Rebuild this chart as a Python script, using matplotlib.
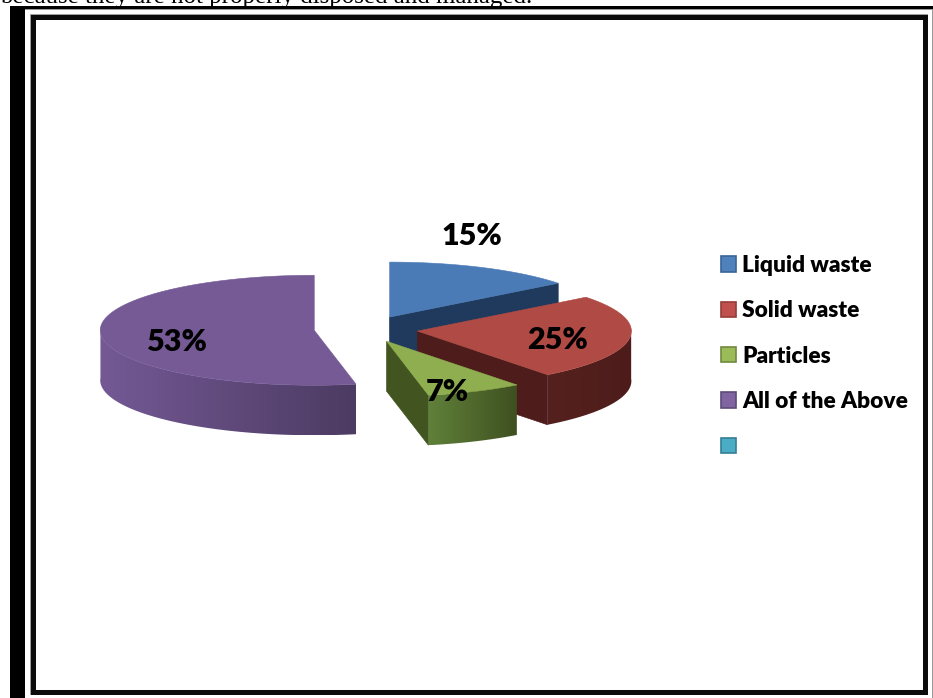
import numpy as np
import matplotlib
matplotlib.use("Agg")
import matplotlib.pyplot as plt
from matplotlib.colors import to_rgb, LinearSegmentedColormap
from matplotlib.patches import Polygon, Rectangle, Patch

# values as they are printed on the chart
categories = ["Liquid waste", "Solid waste", "Particles", "All of the Above", " "]
shares = [15, 25, 7, 53]
caption = "because they are not properly disposed and managed."

top_colors = ["#4a7bb6", "#b04a45", "#8eae4f", "#755a96"]
cut_colors = ["#1f3a5d", "#4d1c1b", "#42541f", "#4b3a60"]
wall_colors = [("#2c4d78", "#2c4d78"), ("#55211e", "#4d1c1a"),
               ("#60813a", "#3f5020"), ("#745995", "#4c3b62")]
legend_colors = ["#4f81bd", "#c0504d", "#9bbb59", "#8064a2", "#4bacc6"]
legend_edges = ["#3a6496", "#963c3a", "#71893f", "#5d4a78", "#357f94"]
label_pos = [(472, 236), (558, 340), (447, 392), (177, 342)]

CX, CY = 366, 329
RX, RY = 214, 55
DEPTH = 50
EXPLODE = 0.243
WARP = 2.5  # degrees, the original 3d view is not a pure ellipse


def rim(cx, cy, deg):
    # deg runs clockwise from 12 o'clock
    a = np.radians(deg - WARP * np.sin(np.radians(deg)))
    return cx + RX * np.sin(a), cy - RY * np.cos(a)


def arc_points(cx, cy, a0, a1, n=80):
    xs, ys = rim(cx, cy, np.linspace(a0, a1, n))
    return np.column_stack([xs, ys])


def draw_cut(ax, cx, cy, deg, color):
    x, y = rim(cx, cy, deg)
    pts = [(cx, cy), (x, y), (x, y + DEPTH), (cx, cy + DEPTH)]
    ax.add_patch(Polygon(pts, closed=True, fc=color, ec=color, lw=0.5))


def draw_wall(ax, cx, cy, a0, a1, colors):
    a0, a1 = max(a0, 90), min(a1, 270)
    if a0 >= a1:
        return
    top = arc_points(cx, cy, a0, a1)
    bottom = top[::-1] + [0, DEPTH]
    outline = Polygon(np.vstack([top, bottom]), closed=True, fc="none", ec="none")
    ax.add_patch(outline)
    x0, x1 = top[:, 0].min(), top[:, 0].max()
    y0, y1 = top[:, 1].min(), top[:, 1].max() + DEPTH
    # left colour is the lighter end on this chart
    cmap = LinearSegmentedColormap.from_list("wall", [to_rgb(c) for c in colors])
    im = ax.imshow(np.linspace(0, 1, 128).reshape(1, -1), cmap=cmap, aspect="auto",
                   extent=(x0, x1, y1, y0), interpolation="bilinear", zorder=1)
    im.set_clip_path(outline)


fig = plt.figure(figsize=(9.33, 6.98), dpi=100, facecolor="white")
ax = fig.add_axes([0, 0, 1, 1])
ax.axis("off")

# page frame from the scanned document
ax.add_patch(Rectangle((10, 6), 15, 692, fc="black", ec="none"))
ax.add_patch(Rectangle((10, 6), 923, 3, fc="black", ec="none"))
ax.add_patch(Rectangle((25, 9), 908, 1, fc="#9a9a9a", ec="none"))
ax.add_patch(Rectangle((932, 9), 1, 689, fc="#9a9a9a", ec="none"))
ax.add_patch(Rectangle((30, 14), 897, 680, fc="none", ec="#8c8c8c", lw=0.6))
ax.add_patch(Rectangle((30.5, 14.5), 896, 679, fc="white", ec="none"))
ax.add_patch(Rectangle((32.5, 16.5), 892, 675, fc="none", ec="#0c0c0c", lw=3.6))

ax.text(0, 3, caption, family="Liberation Serif", fontsize=17.9, color="black",
        va="baseline", ha="left", clip_on=True)

start = 0.0
for i, share in enumerate(shares):
    sweep = share / sum(shares) * 360
    end = start + sweep
    mid = np.radians(start + sweep / 2)
    cx = CX + EXPLODE * RX * np.sin(mid)
    cy = CY - EXPLODE * RY * np.cos(mid)

    if np.sin(np.radians(start)) < -1e-6:
        draw_cut(ax, cx, cy, start, cut_colors[i])
    if np.sin(np.radians(end)) > 1e-6:
        draw_cut(ax, cx, cy, end, cut_colors[i])
    draw_wall(ax, cx, cy, start, end, wall_colors[i])
    face = np.vstack([[cx, cy], arc_points(cx, cy, start, end)])
    ax.add_patch(Polygon(face, closed=True, fc=top_colors[i], ec=top_colors[i], lw=0.4))
    start = end

for share, (x, y) in zip(shares, label_pos):
    ax.text(x, y, f"{share}%", family="Lato", weight="heavy", fontsize=22, color="black",
            ha="center", va="center", zorder=10)

handles = [Patch(fc=f, ec=e, lw=1.2) for f, e in zip(legend_colors, legend_edges)]
leg = ax.legend(handles, categories, loc="upper left", bbox_to_anchor=(721, 255),
                bbox_transform=ax.transData, frameon=False, borderpad=0, borderaxespad=0,
                handlelength=0.67, handleheight=0.67, handletextpad=0.26, labelspacing=1.075,
                prop={"family": "Lato", "weight": "heavy", "size": 16.3})

ax.set_xlim(0, 933)
ax.set_ylim(698, 0)
fig.savefig("out.png", dpi=100)
